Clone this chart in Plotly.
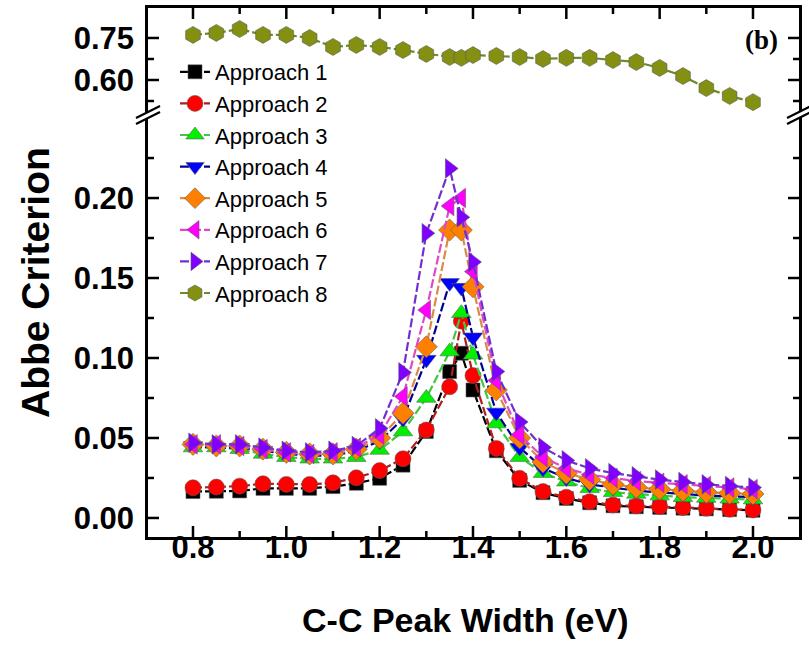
import plotly.graph_objects as go

# ---------------- data ----------------
peak_width = [0.8, 0.85, 0.9, 0.95, 1.0, 1.05, 1.1, 1.15, 1.2, 1.25, 1.3, 1.35, 1.375,
              1.4, 1.45, 1.5, 1.55, 1.6, 1.65, 1.7, 1.75, 1.8, 1.85, 1.9, 1.95, 2.0]

approach1 = [0.0165, 0.0167, 0.0169, 0.0185, 0.0185, 0.0185, 0.0196, 0.0217, 0.0248, 0.033, 0.054, 0.0915, 0.103,
             0.080, 0.042, 0.0235, 0.0158, 0.0122, 0.0095, 0.0076, 0.0070, 0.0066, 0.0061, 0.0057, 0.0052, 0.0048]
approach2 = [0.0189, 0.0193, 0.0199, 0.0214, 0.0210, 0.0210, 0.0220, 0.0251, 0.0296, 0.037, 0.055, 0.082, 0.123,
             0.089, 0.0435, 0.0248, 0.0165, 0.013, 0.0102, 0.0081, 0.0075, 0.0071, 0.0065, 0.0060, 0.0054, 0.0050]
approach3 = [0.044, 0.044, 0.043, 0.040, 0.038, 0.037, 0.037, 0.038, 0.0425, 0.054, 0.075, 0.104, 0.128,
             0.102, 0.059, 0.038, 0.028, 0.0227, 0.0185, 0.016, 0.015, 0.014, 0.013, 0.0125, 0.012, 0.0115]
approach4 = [0.045, 0.044, 0.044, 0.042, 0.040, 0.039, 0.039, 0.042, 0.048, 0.062, 0.099, 0.147, 0.144,
             0.113, 0.066, 0.044, 0.031, 0.025, 0.021, 0.019, 0.017, 0.016, 0.015, 0.014, 0.0135, 0.013]
approach5 = [0.046, 0.045, 0.045, 0.043, 0.041, 0.040, 0.040, 0.043, 0.050, 0.0655, 0.107, 0.180, 0.180,
             0.1445, 0.080, 0.050, 0.035, 0.028, 0.024, 0.021, 0.019, 0.018, 0.017, 0.016, 0.0155, 0.015]
approach6 = [0.046, 0.046, 0.045, 0.043, 0.041, 0.040, 0.041, 0.044, 0.052, 0.076, 0.130, 0.195, 0.200,
             0.154, 0.086, 0.052, 0.038, 0.031, 0.027, 0.025, 0.023, 0.022, 0.021, 0.020, 0.019, 0.018]
approach7 = [0.047, 0.046, 0.046, 0.044, 0.042, 0.041, 0.042, 0.045, 0.056, 0.091, 0.178, 0.2185, 0.188,
             0.160, 0.0915, 0.060, 0.044, 0.036, 0.031, 0.028, 0.026, 0.024, 0.0225, 0.021, 0.020, 0.019]
approach8 = [0.761, 0.768, 0.782, 0.761, 0.761, 0.750, 0.718, 0.725, 0.718, 0.707, 0.693, 0.682, 0.679,
             0.689, 0.686, 0.682, 0.675, 0.679, 0.679, 0.671, 0.664, 0.643, 0.614, 0.571, 0.543, 0.521]

series_names = ["Approach 1", "Approach 2", "Approach 3", "Approach 4",
                "Approach 5", "Approach 6", "Approach 7", "Approach 8"]

x_tick_vals = [0.8, 1.0, 1.2, 1.4, 1.6, 1.8, 2.0]
x_tick_text = ["0.8", "1.0", "1.2", "1.4", "1.6", "1.8", "2.0"]
x_minor_vals = [0.9, 1.1, 1.3, 1.5, 1.7, 1.9]
y_low_tick_vals = [0.0, 0.05, 0.10, 0.15, 0.20]
y_low_tick_text = ["0.00", "0.05", "0.10", "0.15", "0.20"]
y_low_minor_vals = [0.025, 0.075, 0.125, 0.175, 0.225]
y_high_tick_vals = [0.60, 0.75]
y_high_tick_text = ["0.60", "0.75"]
y_high_minor_vals = [0.525, 0.675]

# ---------------- styles ----------------
marker_colors = ["#000000", "#FF0000", "#00F000", "#0000FF", "#FF8000", "#FF00FF", "#8000FF", "#849012"]
line_colors = ["#000000", "#B01E1E", "#40C840", "#000090", "#D98C45", "#E048C8", "#7030D0", "#6E8A2A"]
symbols = ["square", "circle", "triangle-up", "triangle-down", "diamond",
           "triangle-left", "triangle-right", "hexagon"]
sizes = [14, 16, 17, 17, 17, 17, 17, 17]

all_series = [approach1, approach2, approach3, approach4, approach5, approach6, approach7, approach8]

FONT = "Arial, Liberation Sans, sans-serif"

fig = go.Figure()
for i, (name, ys) in enumerate(zip(series_names, all_series)):
    top = (i == 7)
    fig.add_trace(go.Scatter(
        x=peak_width, y=ys, name=name, mode="lines+markers",
        xaxis="x2" if top else "x", yaxis="y2" if top else "y",
        legendgroup=name,
        line=dict(color=line_colors[i], width=2.2, dash="9px,3px"),
        marker=dict(symbol=symbols[i], size=sizes[i], color=marker_colors[i],
                    line=dict(color="rgba(90,90,90,0.7)", width=0.8)),
    ))

# geometry (pixels) of the plot frame
L, R, T, B = 148, 799, 8, 537
W_img, H_img = 809, 648
split = 0.7977
PW = R - L                      # plot width in px
H_LOW = split * (B - T)         # lower panel height in px
H_TOP = (1 - split) * (B - T)   # upper panel height in px

tick_font = dict(family=FONT, size=31, color="black", weight="bold")


def axis(**kw):
    d = dict(showgrid=False, zeroline=False, showline=True, linecolor="black",
             linewidth=2.5, ticks="", tickfont=tick_font, automargin=False)
    d.update(kw)
    return d


fig.update_layout(
    template="none",
    width=W_img, height=H_img,
    margin=dict(l=L, r=W_img - R, t=T, b=H_img - B, pad=0),
    paper_bgcolor="white", plot_bgcolor="white",
    font=dict(family=FONT, color="black"),
    showlegend=True,
    legend=dict(x=(175 - L) / PW, y=(B - 51) / (B - T), xanchor="left", yanchor="top",
                bgcolor="rgba(0,0,0,0)", font=dict(family=FONT, size=22, color="black"),
                traceorder="grouped", tracegroupgap=0),
    xaxis=axis(domain=[0, 1], anchor="y", range=[0.7036, 2.0986],
               tickvals=x_tick_vals, ticktext=x_tick_text, ticklabelstandoff=-19),
    xaxis2=axis(domain=[0, 1], anchor="y2", matches="x", side="top", showticklabels=False,
                tickvals=x_tick_vals, ticktext=x_tick_text),
    yaxis=axis(domain=[0, split], anchor="x", range=[-0.0119, 0.2519],
               tickvals=y_low_tick_vals, ticktext=y_low_tick_text, mirror=True,
               ticklabelstandoff=5),
    yaxis2=axis(domain=[split, 1], anchor="x2", range=[0.475, 0.857],
                tickvals=y_high_tick_vals, ticktext=y_high_tick_text, mirror=True,
                ticklabelstandoff=5),
)


def px(xp):
    return (xp - L) / PW


def py(yp):
    return (B - yp) / (B - T)


shapes = []
MAJ, MIN, TW = 11, 6, 2.5

# tick marks drawn through the axes' own scales (data coords along the axis)
for vals, ln in ((x_tick_vals, MAJ), (x_minor_vals, MIN)):
    for v in vals:
        shapes.append(dict(type="line", xref="x", yref="y domain", x0=v, x1=v,
                           y0=0, y1=ln / H_LOW, layer="above",
                           line=dict(color="black", width=TW)))
        shapes.append(dict(type="line", xref="x2", yref="y2 domain", x0=v, x1=v,
                           y0=1, y1=1 - ln / H_TOP, layer="above",
                           line=dict(color="black", width=TW)))
for yref, xref, vals_maj, vals_min in (("y", "x domain", y_low_tick_vals, y_low_minor_vals),
                                       ("y2", "x2 domain", y_high_tick_vals, y_high_minor_vals)):
    for vals, ln in ((vals_maj, MAJ), (vals_min, MIN)):
        for v in vals:
            shapes.append(dict(type="line", xref=xref, yref=yref, x0=0, x1=ln / PW,
                               y0=v, y1=v, layer="above", line=dict(color="black", width=TW)))
            shapes.append(dict(type="line", xref=xref, yref=yref, x0=1, x1=1 - ln / PW,
                               y0=v, y1=v, layer="above", line=dict(color="black", width=TW)))

# axis break marks
for ax_x in (L, R):
    x0, x1 = ax_x - 12, ax_x + 12
    shapes.append(dict(type="path", xref="paper", yref="paper", layer="above",
                       path=f"M{px(x0)},{py(118)} L{px(x1)},{py(106)} L{px(x1)},{py(112)} L{px(x0)},{py(124)} Z",
                       fillcolor="white", line=dict(width=0)))
    for off in (0, 6):
        shapes.append(dict(type="line", xref="paper", yref="paper", layer="above",
                           x0=px(x0), y0=py(118 + off), x1=px(x1), y1=py(106 + off),
                           line=dict(color="black", width=2.2)))
fig.update_layout(shapes=shapes)

# titles and panel label
fig.add_annotation(text="C-C Peak Width (eV)", xref="paper", yref="paper",
                   x=px(465), y=py(620), showarrow=False, xanchor="center", yanchor="middle",
                   font=dict(family=FONT, size=34, color="black", weight="bold"))
fig.add_annotation(text="Abbe Criterion", xref="paper", yref="paper",
                   x=px(35), y=py(283), showarrow=False, textangle=-90,
                   xanchor="center", yanchor="middle",
                   font=dict(family=FONT, size=39, color="black", weight="bold"))
fig.add_annotation(text="(b)", xref="paper", yref="paper",
                   x=px(761), y=py(40), showarrow=False, xanchor="center", yanchor="middle",
                   font=dict(family="Times New Roman, Liberation Serif, serif", size=27,
                             color="black", weight="bold"))

fig.write_html("out.html", config={"displayModeBar": False},
               post_script="document.body.style.margin='0px';")
